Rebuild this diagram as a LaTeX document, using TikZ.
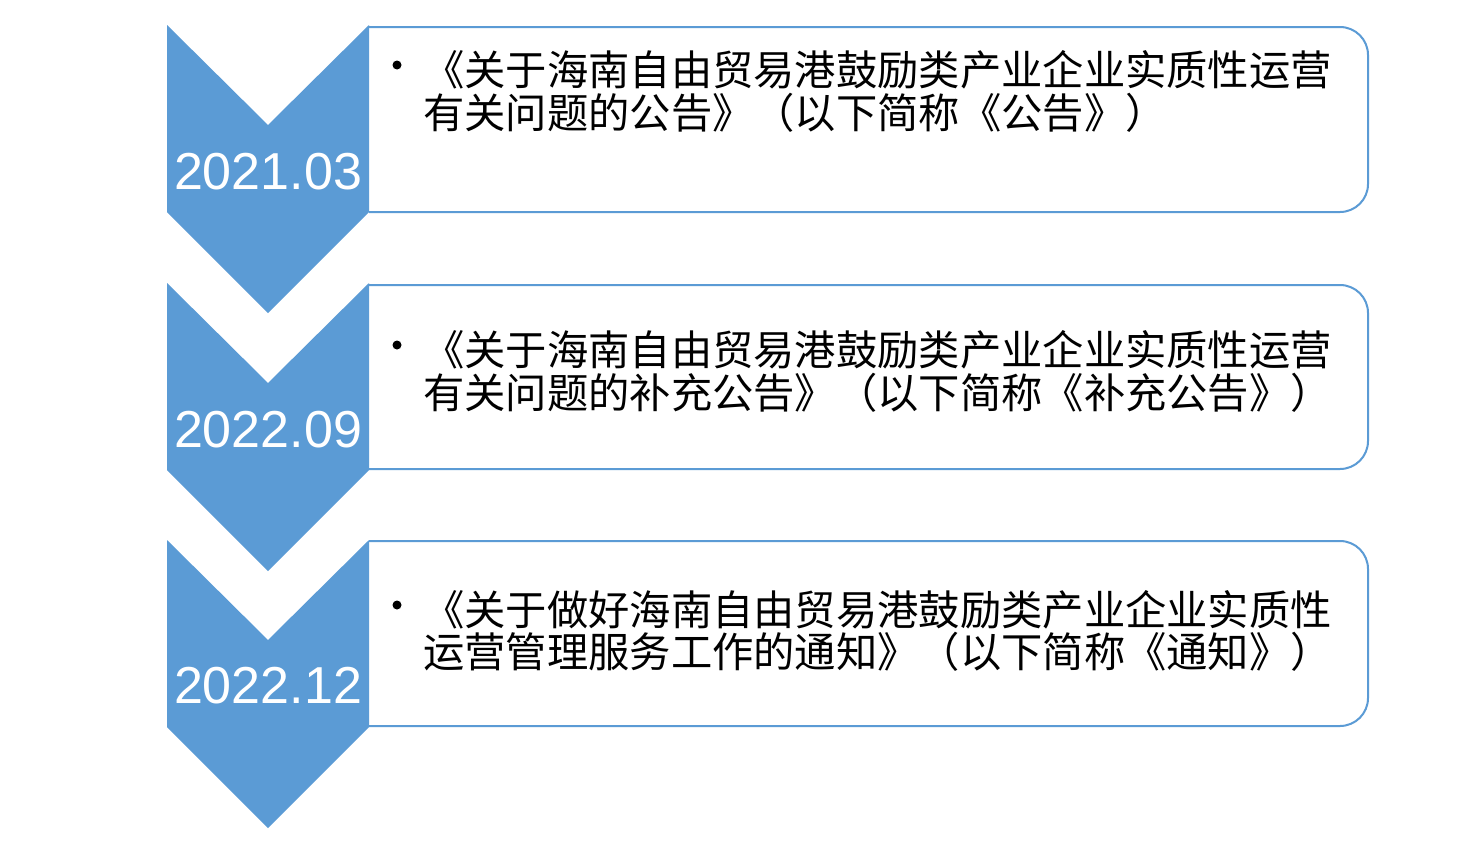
\documentclass[tikz,border=0pt]{standalone}
\usepackage{fontspec}
\setmainfont{Liberation Sans}
\newfontfamily\cjk{Noto Sans CJK SC}
\definecolor{chevblue}{RGB}{91,155,213}
\begin{document}
\begin{tikzpicture}[x=1bp,y=-1bp,
  chevron/.style={fill=chevblue,draw=none},
  infobox/.style={draw=chevblue,line width=2bp,fill=white,rounded corners=28bp},
  datelabel/.style={text=white,inner sep=0pt,font=\fontsize{52bp}{52bp}\selectfont},
  cjkline/.style={anchor=base west,inner sep=0pt,font=\cjk\fontsize{41.3bp}{45bp}\selectfont},
  bulletdot/.style={circle,fill=black,inner sep=0pt,minimum size=9bp}]
\useasboundingbox[fill=white] (0,0) rectangle (1474,850);
% boxes (clipped at the chevron edge)
\begin{scope}
  \clip (369,0) rectangle (1474,850);
  \draw[infobox] (320,27) rectangle (1368,212);
  \draw[infobox] (320,285) rectangle (1368,469);
  \draw[infobox] (320,541) rectangle (1368,726);
\end{scope}
% chevrons
\foreach \t/\n in {25/a,283/b,540/c}{
  \fill[chevron] (167,\t) -- (268,\t+100) -- (369,\t) -- (369,\t+187) -- (268,\t+288) -- (167,\t+187) -- cycle;
}
\node[datelabel] (d1) at (268,172) {2021.03};
\node[datelabel] (d2) at (268,430) {2022.09};
\node[datelabel] (d3) at (268,686) {2022.12};
% texts
\node[bulletdot] (b1) at (397,65) {};
\node[cjkline] (t1a) at (423,85) {《关于海南自由贸易港鼓励类产业企业实质性运营};
\node[cjkline] (t1b) at (423,128) {有关问题的公告》（以下简称《公告》）};
\node[bulletdot] (b2) at (397,345) {};
\node[cjkline] (t2a) at (423,365) {《关于海南自由贸易港鼓励类产业企业实质性运营};
\node[cjkline] (t2b) at (423,408) {有关问题的补充公告》（以下简称《补充公告》）};
\node[bulletdot] (b3) at (397,605) {};
\node[cjkline] (t3a) at (423,625) {《关于做好海南自由贸易港鼓励类产业企业实质性};
\node[cjkline] (t3b) at (423,667) {运营管理服务工作的通知》（以下简称《通知》）};
\end{tikzpicture}
\end{document}
